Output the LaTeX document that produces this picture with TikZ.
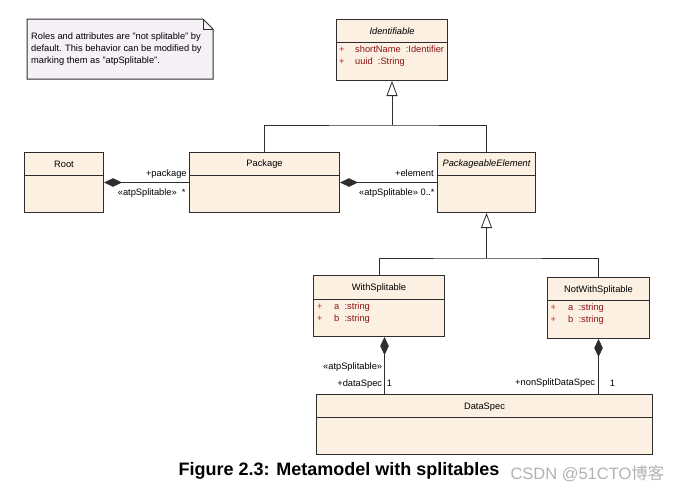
\documentclass[tikz,border=0pt]{standalone}
\usepackage{fontspec}
\setmainfont{Liberation Sans}
\newfontfamily\cjkfont{Noto Sans CJK SC}
\usetikzlibrary{arrows.meta}

\definecolor{classfill}{RGB}{251,240,225}
\definecolor{notefill}{RGB}{246,241,246}
\definecolor{attrred}{RGB}{140,20,20}
\definecolor{plusred}{RGB}{205,40,30}
\definecolor{edgegray}{RGB}{45,45,45}

\begin{document}
\begin{tikzpicture}[x=1pt, y=-1pt,
    font=\fontsize{9.3}{11}\selectfont,
    umlclass/.style={draw=edgegray, fill=classfill, line width=1pt, anchor=north west, inner sep=0pt},
    divider/.style={draw=edgegray, line width=1pt},
    classname/.style={inner sep=0pt},
    attrs/.style={anchor=north west, inner sep=0pt, align=left, text=attrred, font=\fontsize{9.3}{12}\selectfont},
    link/.style={draw=edgegray, line width=0.8pt},
    generalize/.style={link, -{Triangle[open, length=15pt, width=11pt]}},
    composite/.style={link, {Diamond[length=18pt, width=8.5pt]}-},
    role/.style={inner sep=0pt}]
    \useasboundingbox (0,0) rectangle (679,498);

    % note
    \draw[draw=edgegray, fill=notefill, line width=1pt] (27,19) -- (203,19) -- (213,29) -- (213,79) -- (27,79) -- cycle;
    \draw[divider] (203,19) -- (203,29) -- (213,29);
    \node[anchor=north west, align=left, inner sep=0pt, font=\fontsize{9.3}{12}\selectfont] (notetext) at (31,33)
        {Roles and attributes are "not splitable" by\\default. This behavior can be modified by\\marking them as "atpSplitable".};

    % classes
    \node[umlclass, minimum width=111pt, minimum height=61pt] (ident) at (336,19) {};
    \draw[divider] ([yshift=-23.5pt]ident.north west) -- ([yshift=-23.5pt]ident.north east);
    \node[classname, font=\fontsize{9.3}{11}\itshape] (identname) at ([yshift=-12.5pt]ident.north) {Identifiable};
    \node[attrs] (identattr) at ([xshift=3pt, yshift=-27pt]ident.north west)
        {\makebox[16pt][l]{\textcolor{plusred}{+}}shortName\ \ :Identifier\\\makebox[16pt][l]{\textcolor{plusred}{+}}uuid\ \ :String};

    \node[umlclass, minimum width=79pt, minimum height=60pt] (root) at (24,152) {};
    \draw[divider] ([yshift=-23pt]root.north west) -- ([yshift=-23pt]root.north east);
    \node[classname] (rootname) at ([yshift=-12pt]root.north) {Root};

    \node[umlclass, minimum width=150pt, minimum height=60pt] (pkg) at (189,152) {};
    \draw[divider] ([yshift=-23pt]pkg.north west) -- ([yshift=-23pt]pkg.north east);
    \node[classname] (pkgname) at ([yshift=-12pt]pkg.north) {Package};

    \node[umlclass, minimum width=98pt, minimum height=60pt] (pe) at (437,152) {};
    \draw[divider] ([yshift=-23pt]pe.north west) -- ([yshift=-23pt]pe.north east);
    \node[classname, font=\fontsize{9.3}{11}\itshape] (pename) at ([yshift=-12.5pt]pe.north) {PackageableElement};

    \node[umlclass, minimum width=131pt, minimum height=61pt] (withs) at (313,275) {};
    \draw[divider] ([yshift=-24pt]withs.north west) -- ([yshift=-24pt]withs.north east);
    \node[classname] (withsname) at ([yshift=-13pt]withs.north) {WithSplitable};
    \node[attrs] (withsattr) at ([xshift=4pt, yshift=-28pt]withs.north west)
        {\makebox[17pt][l]{\textcolor{plusred}{+}}a\ \ :string\\\makebox[17pt][l]{\textcolor{plusred}{+}}b\ \ :string};

    \node[umlclass, minimum width=102pt, minimum height=61pt] (nots) at (547,277) {};
    \draw[divider] ([yshift=-23pt]nots.north west) -- ([yshift=-23pt]nots.north east);
    \node[classname] (notsname) at ([yshift=-13pt]nots.north) {NotWithSplitable};
    \node[attrs] (notsattr) at ([xshift=3.5pt, yshift=-27pt]nots.north west)
        {\makebox[17.5pt][l]{\textcolor{plusred}{+}}a\ \ :string\\\makebox[17.5pt][l]{\textcolor{plusred}{+}}b\ \ :string};

    \node[umlclass, minimum width=336pt, minimum height=60pt] (dspec) at (316,394) {};
    \draw[divider] ([yshift=-23pt]dspec.north west) -- ([yshift=-23pt]dspec.north east);
    \node[classname] (dspecname) at ([yshift=-13pt]dspec.north) {DataSpec};

    % generalizations
    \coordinate (topjoin) at ([yshift=-44pt]ident.south);
    \draw[link] (pkg.north) |- (topjoin) -| (pe.north);
    \draw[generalize] (topjoin) -- (ident.south);
    \coordinate (lowjoin) at ([yshift=-45pt]pe.south);
    \draw[link] (withs.north) |- (lowjoin) -| (nots.north);
    \draw[generalize] (lowjoin) -- (pe.south);

    % compositions
    \draw[composite] (root.east) -- (pkg.west)
        node[role, at end, anchor=base east, xshift=-2pt, yshift=6pt] {+package}
        node[role, at end, anchor=base east, xshift=-3pt, yshift=-13pt] {«atpSplitable»\ \ *};
    \draw[composite] (pkg.east) -- (pe.west)
        node[role, at end, anchor=base east, xshift=-3pt, yshift=6pt] {+element}
        node[role, at end, anchor=base east, xshift=-2pt, yshift=-13pt] {«atpSplitable» 0..*};
    \draw[composite] ([xshift=5.5pt]withs.south) -- ([xshift=5.5pt]withs.south |- dspec.north)
        node[role, at end, anchor=base east, xshift=-2pt, yshift=7.5pt] {+dataSpec}
        node[role, at end, anchor=base west, xshift=2pt, yshift=7.5pt] {1}
        node[role, at end, anchor=base east, xshift=-2pt, yshift=24.5pt] {«atpSplitable»};
    \draw[composite] (nots.south) -- (nots.south |- dspec.north)
        node[role, at end, anchor=base east, xshift=-3pt, yshift=8.5pt] {+nonSplitDataSpec}
        node[role, at end, anchor=base west, xshift=11pt, yshift=7.5pt] {1};

    % caption
    \node[font=\fontsize{18}{20}\bfseries] (caption) at (339,471) {Figure 2.3: Metamodel with splitables};
    \node[anchor=east, text=black!30, font=\fontsize{16.5}{18}\selectfont] (mark) at (668,474) {CSDN @51CTO{\cjkfont 博客}};
\end{tikzpicture}
\end{document}
